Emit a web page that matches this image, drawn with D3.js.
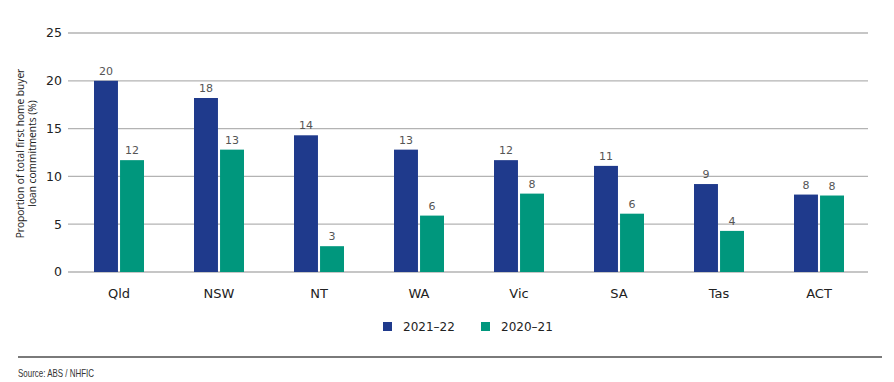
<!DOCTYPE html>
<html>
<head>
<meta charset="utf-8">
<script src="https://cdn.jsdelivr.net/npm/d3@7"></script>
<style>
  body { margin: 0; background: #fff; }
  svg { display: block; }
</style>
</head>
<body>
<svg id="chart" width="894" height="382"></svg>
<script>
const categories = ["Qld", "NSW", "NT", "WA", "Vic", "SA", "Tas", "ACT"];
const seriesNames = ["2021–22", "2020–21"];
const values2122 = [20.0, 18.2, 14.3, 12.8, 11.7, 11.1, 9.2, 8.1];
const values2021 = [11.7, 12.8, 2.7, 5.9, 8.2, 6.1, 4.3, 8.0];
const yTicks = [0, 5, 10, 15, 20, 25];
const colors = ["#1f3a8c", "#00977d"];

const svg = d3.select("#chart");
const margin = { left: 69, right: 869, top: 33, bottom: 272 };

const x = d3.scaleBand().domain(categories).range([margin.left, margin.right])
  .paddingInner(0.5).paddingOuter(0.25);
const xs = d3.scaleBand().domain(seriesNames).range([0, x.bandwidth()]).paddingInner(0.08);
const y = d3.scaleLinear().domain([0, 25]).range([margin.bottom, margin.top]);

// gridlines
svg.append("g").selectAll("line").data(yTicks).join("line")
  .attr("x1", 68).attr("x2", 868)
  .attr("y1", d => y(d)).attr("y2", d => y(d))
  .attr("stroke", "#b3b3b3").attr("stroke-width", 1.3);

// y tick labels
svg.append("g").selectAll("text").data(yTicks).join("text")
  .attr("x", 62).attr("y", d => y(d)).attr("dy", "0.35em")
  .attr("text-anchor", "end")
  .attr("font-family", "DejaVu Sans, Verdana, sans-serif")
  .attr("font-size", 12.5).attr("fill", "#222")
  .text(d => d);

// y title
const yt = svg.append("text")
  .attr("transform", `translate(27,${(margin.top + margin.bottom) / 2 + 1}) rotate(-90)`)
  .attr("text-anchor", "middle")
  .attr("font-family", "Open Sans, sans-serif")
  .attr("font-size", 10.2).attr("fill", "#222");
yt.append("tspan").attr("x", 0).attr("dy", "-0.25em").text("Proportion of total first home buyer");
yt.append("tspan").attr("x", 0).attr("dy", "1.15em").text("loan commitments (%)");

const data = categories.map((c, i) => ({
  cat: c,
  vals: [{ s: seriesNames[0], v: values2122[i], c: colors[0] },
         { s: seriesNames[1], v: values2021[i], c: colors[1] }]
}));

const groups = svg.append("g").selectAll("g").data(data).join("g")
  .attr("transform", d => `translate(${x(d.cat)},0)`);

groups.selectAll("rect").data(d => d.vals).join("rect")
  .attr("x", d => xs(d.s)).attr("width", xs.bandwidth())
  .attr("y", d => y(d.v)).attr("height", d => y(0) - y(d.v))
  .attr("fill", d => d.c);

groups.selectAll("text.val").data(d => d.vals).join("text")
  .attr("class", "val")
  .attr("x", d => xs(d.s) + xs.bandwidth() / 2)
  .attr("y", d => y(d.v) - 6)
  .attr("text-anchor", "middle")
  .attr("font-family", "DejaVu Sans, Verdana, sans-serif")
  .attr("font-size", 11).attr("fill", "#555")
  .text(d => Math.round(d.v));

// category labels
svg.append("g").selectAll("text").data(categories).join("text")
  .attr("x", d => x(d) + x.bandwidth() / 2)
  .attr("y", 298)
  .attr("text-anchor", "middle")
  .attr("font-family", "DejaVu Sans, Verdana, sans-serif")
  .attr("font-size", 13).attr("fill", "#222")
  .text(d => d);

// legend
const legendX = [383, 481];
const lg = svg.append("g").selectAll("g").data(seriesNames).join("g")
  .attr("transform", (d, i) => `translate(${legendX[i]},322)`);
lg.append("rect").attr("width", 9).attr("height", 9).attr("fill", (d, i) => colors[i]);
lg.append("text").attr("x", 20).attr("y", 9)
  .attr("font-family", "DejaVu Sans, Verdana, sans-serif")
  .attr("font-size", 12).attr("fill", "#222")
  .text(d => d);

// divider
svg.append("line").attr("x1", 18).attr("x2", 882).attr("y1", 357).attr("y2", 357)
  .attr("stroke", "#7a7a7a").attr("stroke-width", 2);

svg.append("text").attr("x", 18).attr("y", 377)
  .attr("font-family", "Liberation Sans Narrow, Liberation Sans, Arial, sans-serif")
  .attr("font-size", 11).attr("fill", "#333")
  .attr("textLength", 76).attr("lengthAdjust", "spacingAndGlyphs")
  .text("Source: ABS / NHFIC");
</script>
</body>
</html>
